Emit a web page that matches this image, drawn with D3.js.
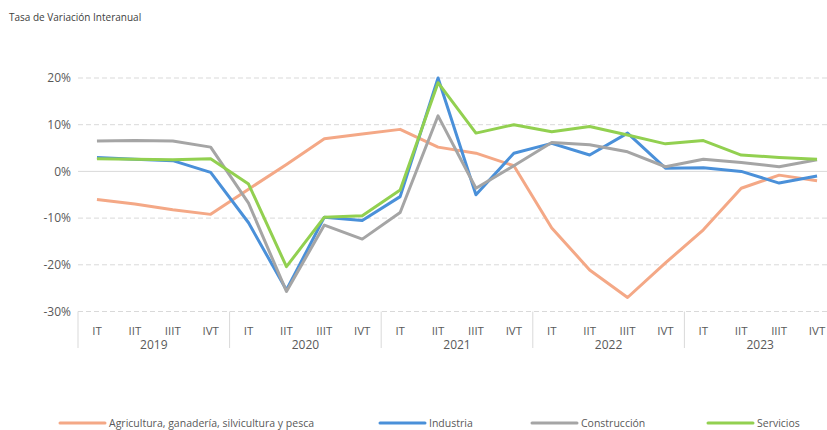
<!DOCTYPE html>
<html>
<head>
<meta charset="utf-8">
<script src="https://cdn.jsdelivr.net/npm/d3@7"></script>
<style>
  body { margin: 0; background: #fff; }
  text { font-family: "Open Sans", "Noto Sans", sans-serif; }
</style>
</head>
<body>
<script>
// Tasa de variación interanual por sectores, trimestral 2019-2023
const width = 827, height = 430;

const years = ["2019", "2020", "2021", "2022", "2023"];
const quarters = ["IT", "IIT", "IIIT", "IVT"];
const yTicks = [20, 10, 0, -10, -20, -30];

const agricultura = [-6.0, -7.0, -8.2, -9.2, -3.8, 1.5, 7.0, 8.0, 9.0, 5.2, 3.9, 1.2, -12.1, -21.1, -27.0, -19.6, -12.5, -3.6, -0.8, -2.0];
const industria   = [3.0, 2.6, 2.3, -0.2, -11.0, -25.4, -9.8, -10.5, -5.4, 20.0, -5.0, 3.9, 6.0, 3.5, 8.2, 0.7, 0.8, 0.0, -2.5, -1.0];
const construccion = [6.5, 6.6, 6.5, 5.2, -6.8, -25.7, -11.5, -14.5, -8.8, 11.9, -3.6, 1.2, 6.2, 5.7, 4.2, 1.0, 2.6, 1.9, 1.0, 2.5];
const servicios   = [2.7, 2.6, 2.5, 2.7, -2.7, -20.4, -9.8, -9.5, -4.0, 19.0, 8.2, 10.0, 8.5, 9.6, 7.8, 5.9, 6.6, 3.5, 3.0, 2.6];

const seriesNames = ["Agricultura, ganadería, silvicultura y pesca", "Industria", "Construcción", "Servicios"];
const seriesColors = ["#F4A886", "#4A90D9", "#A5A5A5", "#92D050"];
const seriesValues = [agricultura, industria, construccion, servicios];

// categorías: año + trimestre
const cats = [];
years.forEach(y => quarters.forEach(q => cats.push(y + "-" + q)));

const svg = d3.select("body").append("svg")
    .attr("width", width)
    .attr("height", height);

const x = d3.scaleBand().domain(cats).range([78, 836]);
const y = d3.scaleLinear().domain([-30, 20]).range([311.5, 78]);
const cx = c => x(c) + x.bandwidth() / 2;

svg.append("text")
    .attr("x", 9).attr("y", 21)
    .attr("font-size", "10px")
    .attr("fill", "#404040")
    .text("Tasa de Variación Interanual");

// gridlines
svg.append("g").selectAll("line")
    .data(yTicks)
    .enter().append("line")
    .attr("x1", 78).attr("x2", 836)
    .attr("y1", d => y(d)).attr("y2", d => y(d))
    .attr("stroke", "#D9D9D9")
    .attr("stroke-width", 1)
    .attr("stroke-dasharray", d => d === 0 ? null : "5,3");

// y labels
svg.append("g").selectAll("text")
    .data(yTicks)
    .enter().append("text")
    .attr("x", 71).attr("y", d => y(d))
    .attr("dy", "0.35em")
    .attr("text-anchor", "end")
    .attr("font-size", "12px")
    .attr("fill", "#595959")
    .text(d => d + "%");

// x axis: separadores de año
const sep = years.map((yr, i) => x(yr + "-IT"));
svg.append("g").selectAll("line")
    .data(sep)
    .enter().append("line")
    .attr("x1", d => d).attr("x2", d => d)
    .attr("y1", 311.5).attr("y2", 348)
    .attr("stroke", "#D9D9D9");

svg.append("g").selectAll("text")
    .data(cats)
    .enter().append("text")
    .attr("x", d => cx(d)).attr("y", 335)
    .attr("text-anchor", "middle")
    .attr("font-size", "11.5px")
    .attr("fill", "#595959")
    .text(d => d.split("-")[1]);

svg.append("g").selectAll("text")
    .data(years)
    .enter().append("text")
    .attr("x", d => (x(d + "-IT") + x(d + "-IVT") + x.bandwidth()) / 2)
    .attr("y", 349)
    .attr("text-anchor", "middle")
    .attr("font-size", "12px")
    .attr("fill", "#595959")
    .text(d => d);

// líneas
const line = d3.line()
    .x((d, i) => cx(cats[i]))
    .y(d => y(d));

svg.append("g").selectAll("path")
    .data(seriesValues)
    .enter().append("path")
    .attr("d", d => line(d))
    .attr("fill", "none")
    .attr("stroke", (d, i) => seriesColors[i])
    .attr("stroke-width", 3)
    .attr("stroke-linejoin", "round");

// leyenda
const legendX = [60, 380, 532, 708];
const leg = svg.append("g").selectAll("g")
    .data(seriesNames)
    .enter().append("g")
    .attr("transform", (d, i) => `translate(${legendX[i]},423)`);

leg.append("line")
    .attr("x1", 0).attr("x2", 45)
    .attr("stroke", (d, i) => seriesColors[i])
    .attr("stroke-width", 3)
    .attr("stroke-linecap", "round");

leg.append("text")
    .attr("x", 49).attr("dy", "0.35em")
    .attr("font-size", "10.5px")
    .attr("fill", "#595959")
    .text(d => d);
</script>
</body>
</html>
